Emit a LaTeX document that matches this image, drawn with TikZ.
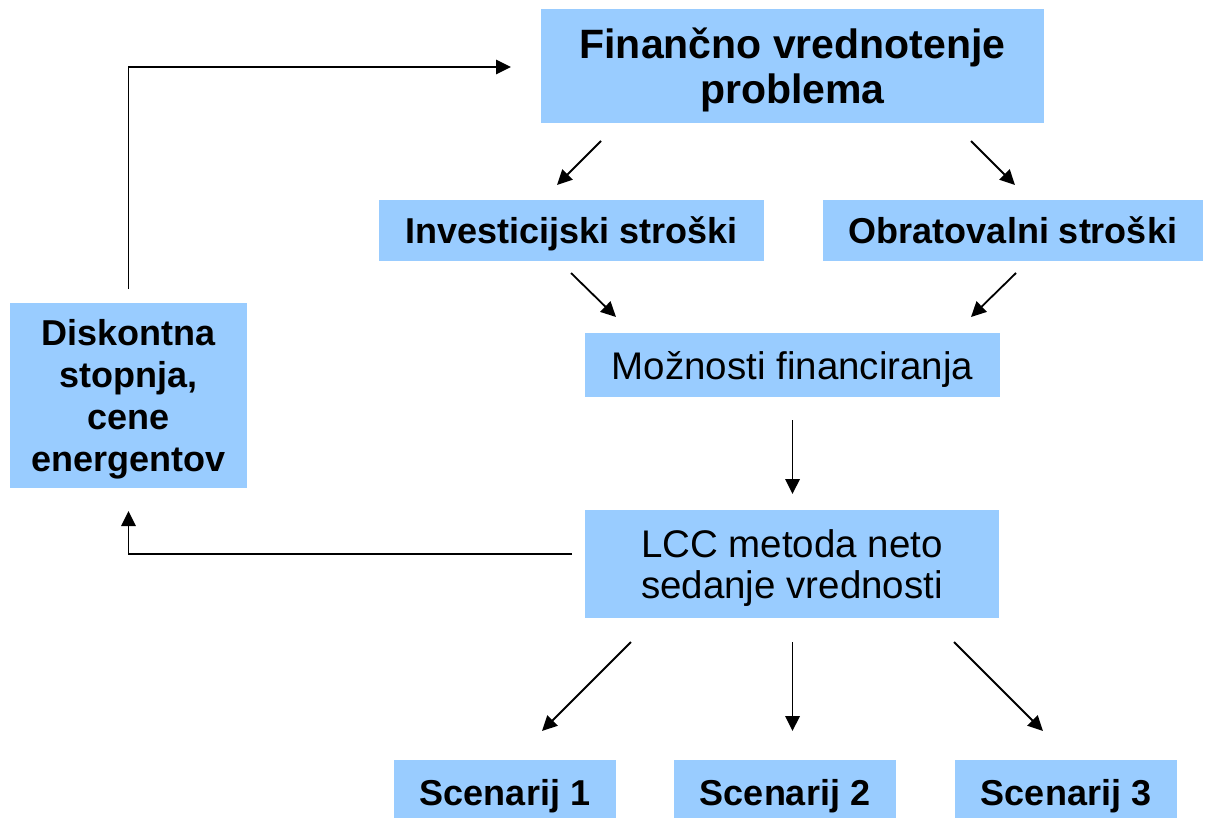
\documentclass[tikz,border=0pt]{standalone}
\usepackage{fontspec}
\setmainfont{Liberation Sans}
\usetikzlibrary{arrows.meta}
\definecolor{boxblue}{HTML}{99CCFF}
\tikzset{
  box/.style={fill=boxblue, inner sep=0pt, text depth=0pt, align=center},
  headfont/.style={font=\fontsize{41}{45}\selectfont\bfseries},
  boldfont/.style={font=\fontsize{36}{42}\selectfont\bfseries},
  plainfont/.style={font=\fontsize{38.5}{41.5}\selectfont},
  arr/.style={draw=black, line width=1.8pt, -{Triangle[length=15pt,width=14.5pt]}},
}
\begin{document}
\begin{tikzpicture}[x=1pt,y=-1pt]
\useasboundingbox (0,0) rectangle (1225,817);

% boxes
\node[box, headfont, minimum width=503pt, minimum height=114pt] (top) at (792.5,66) {Finančno vrednotenje\\problema};
\node[box, boldfont, minimum width=385pt, minimum height=61pt] (inv) at (571.5,230.5) {Investicijski stroški};
\node[box, boldfont, minimum width=380pt, minimum height=61pt] (obr) at (1013,230.5) {Obratovalni stroški};
\node[box, plainfont, minimum width=415pt, minimum height=64pt] (moz) at (792.5,365) {Možnosti financiranja};
\node[box, boldfont, minimum width=237pt, minimum height=185pt] (disk) at (128.5,395.5) {Diskontna\\stopnja,\\cene\\energentov};
\node[box, plainfont, minimum width=414pt, minimum height=108pt] (lcc) at (792,564) {LCC metoda neto\\sedanje vrednosti};
\node[box, boldfont, minimum width=222pt, minimum height=64pt] (s1) at (505,792) {Scenarij 1};
\node[box, boldfont, minimum width=222pt, minimum height=64pt] (s2) at (785,792) {Scenarij 2};
\node[box, boldfont, minimum width=222pt, minimum height=64pt] (s3) at (1066,792) {Scenarij 3};

% connector end points, set a little off the boxes
\coordinate (topL) at (601,141);
\coordinate (invT) at (557,185);
\coordinate (topR) at (971,141);
\coordinate (obrT) at (1015,185);
\coordinate (invB) at (571,273);
\coordinate (mozL) at (616,317);
\coordinate (obrB) at (1016,273);
\coordinate (mozR) at (971,317);
\coordinate (mozB) at (792.5,420);
\coordinate (lccT) at (792.5,494);
\coordinate (lccBL) at (631,642);
\coordinate (lccBM) at (792.5,642);
\coordinate (lccBR) at (954,642);
\coordinate (s1T) at (542,731);
\coordinate (s2T) at (792.5,731);
\coordinate (s3T) at (1043,731);
\coordinate (lccW) at (572,554);
\coordinate (diskB) at (128.5,511);
\coordinate (diskT) at (128.5,289);
\coordinate (topW) at (511,67);

% connectors
\draw[arr] (topL) -- (invT);
\draw[arr] (topR) -- (obrT);
\draw[arr] (invB) -- (mozL);
\draw[arr] (obrB) -- (mozR);
\draw[arr] (mozB) -- (lccT);
\draw[arr] (lccBL) -- (s1T);
\draw[arr] (lccBM) -- (s2T);
\draw[arr] (lccBR) -- (s3T);
\draw[arr] (lccW) -| (diskB);
\draw[arr] (diskT) |- (topW);
\end{tikzpicture}
\end{document}
